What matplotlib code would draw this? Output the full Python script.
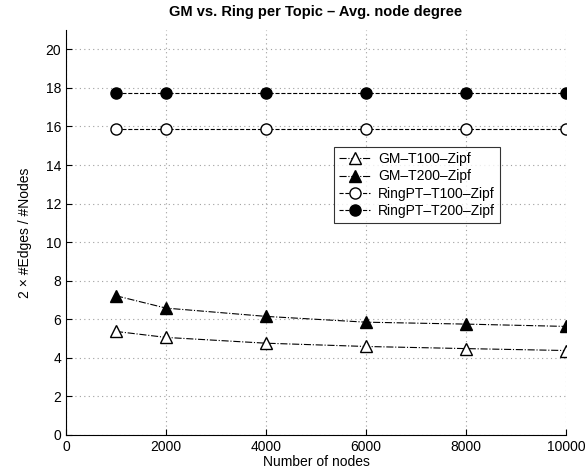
import matplotlib.pyplot as plt

plt.rcParams['font.family'] = ['Liberation Sans', 'DejaVu Sans']

nodes = [1000, 2000, 4000, 6000, 8000, 10000]
gm_t100 = [5.37, 5.06, 4.76, 4.59, 4.48, 4.38]
gm_t200 = [7.22, 6.58, 6.15, 5.85, 5.75, 5.63]
ring_t100 = [15.88, 15.88, 15.88, 15.88, 15.88, 15.88]
ring_t200 = [17.75, 17.75, 17.75, 17.75, 17.75, 17.75]

fig = plt.figure(figsize=(5.86, 4.72), dpi=100)
ax = fig.add_axes([0.1126, 0.0784, 0.8533, 0.858])

ax.plot(nodes, gm_t100, linestyle='-.', color='black', lw=0.8, marker='^',
        markersize=9, markerfacecolor='white', markeredgecolor='black', label='GM\u2013T100\u2013Zipf')
ax.plot(nodes, gm_t200, linestyle='-.', color='black', lw=0.8, marker='^',
        markersize=9, markerfacecolor='black', markeredgecolor='black', label='GM\u2013T200\u2013Zipf')
ax.plot(nodes, ring_t100, linestyle='--', color='black', lw=0.8, marker='o',
        markersize=8, markerfacecolor='white', markeredgecolor='black', label='RingPT\u2013T100\u2013Zipf')
ax.plot(nodes, ring_t200, linestyle='--', color='black', lw=0.8, marker='o',
        markersize=8, markerfacecolor='black', markeredgecolor='black', label='RingPT\u2013T200\u2013Zipf')

ax.set_xlim(0, 10000)
ax.set_ylim(0, 21)
ax.set_xticks(range(0, 10001, 2000))
ax.set_yticks(range(0, 21, 2))
ax.tick_params(direction='in', labelsize=10, length=4)
ax.grid(True, linestyle=(0, (1, 3)), color='#a0a0a0', lw=0.8)
ax.spines['top'].set_visible(False)
ax.spines['right'].set_visible(False)

ax.set_xlabel('Number of nodes', fontsize=10, labelpad=1)
ax.set_ylabel('2 \u00d7 #Edges / #Nodes', fontsize=10, labelpad=10)
ax.set_title('GM vs. Ring per Topic \u2013 Avg. node degree', fontsize=10.5, fontweight='bold', pad=10)

leg = ax.legend(loc='upper right', bbox_to_anchor=(0.868, 0.711), fontsize=10,
                frameon=True, fancybox=False, edgecolor='black', handlelength=2.2,
                borderpad=0.35, labelspacing=0.25, handletextpad=0.6, borderaxespad=0)
leg.get_frame().set_linewidth(0.8)

fig.savefig('out.png', dpi=100)
